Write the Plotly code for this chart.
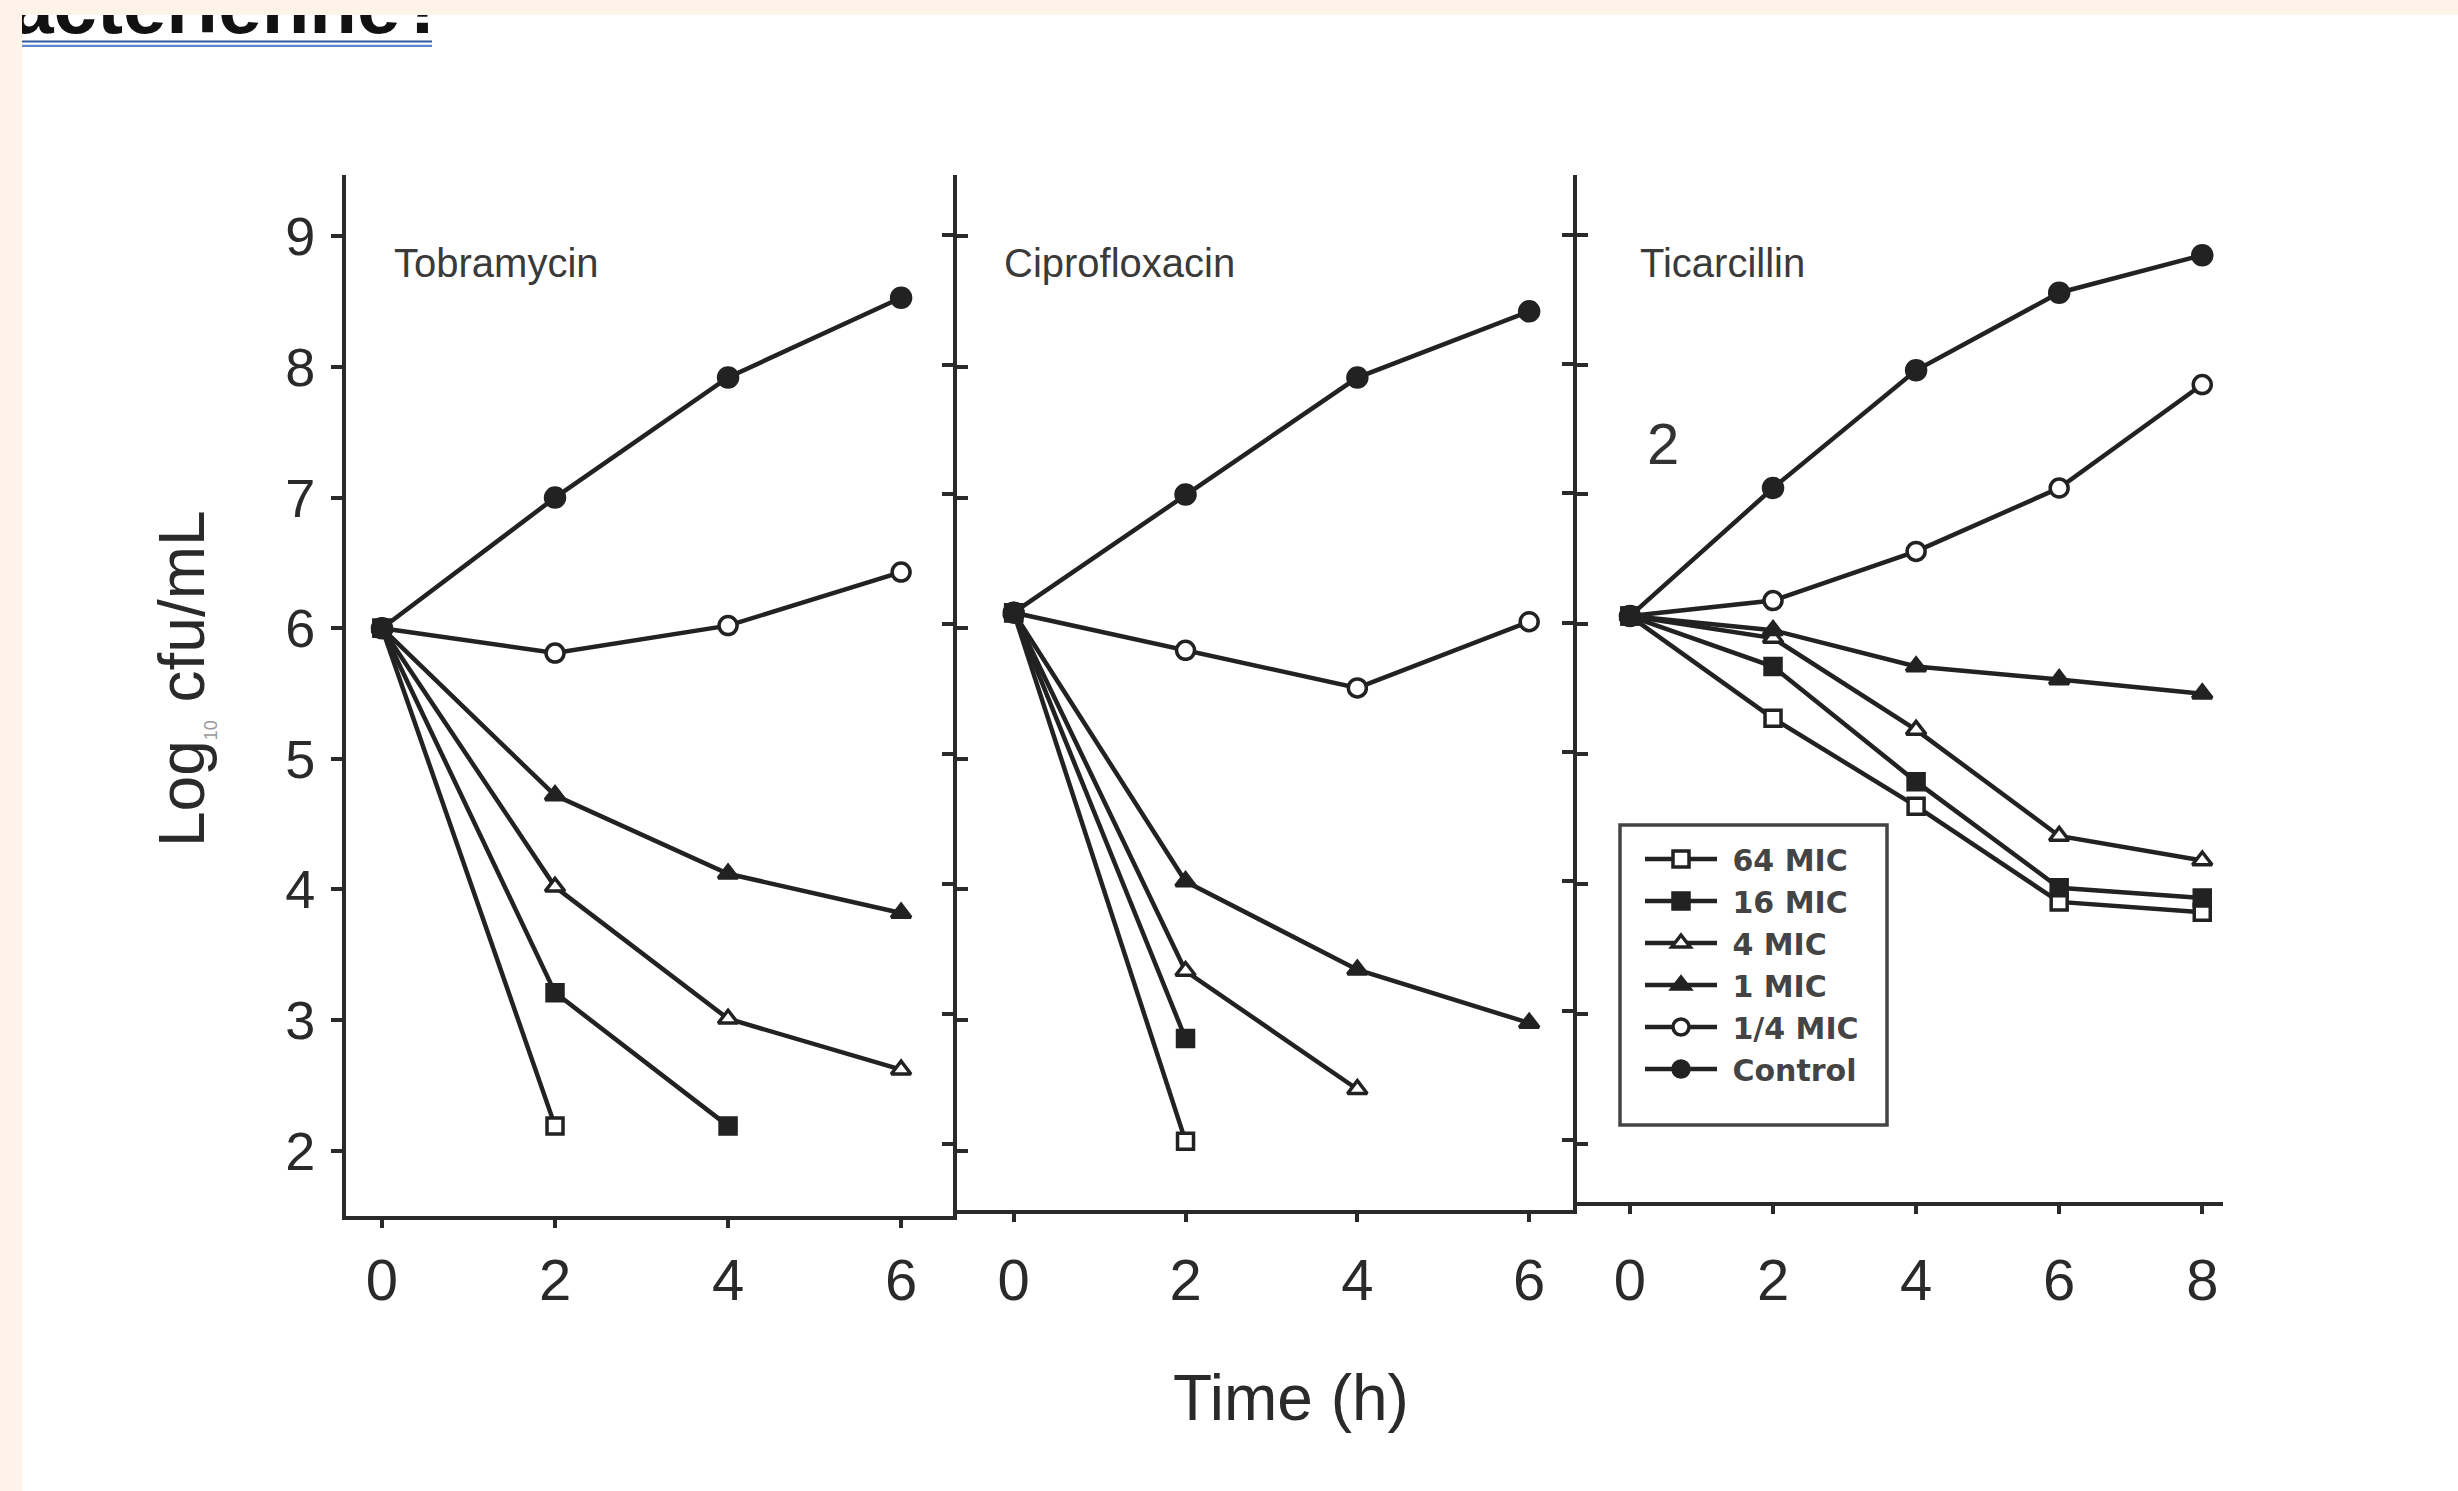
import plotly.graph_objects as go

W, H = 2458, 1491

# ---------------- data ----------------
series_names = ["64 MIC", "16 MIC", "4 MIC", "1 MIC", "1/4 MIC", "Control"]

tob_times = [0, 2, 4, 6]
tob_64mic = [6.0, 2.19]
tob_16mic = [6.0, 3.21, 2.19]
tob_4mic = [6.0, 4.02, 3.01, 2.62]
tob_1mic = [6.0, 4.72, 4.12, 3.82]
tob_quarter = [6.0, 5.81, 6.02, 6.43]
tob_control = [6.0, 7.0, 7.92, 8.53]

cip_times = [0, 2, 4, 6]
cip_64mic = [6.09, 2.02]
cip_16mic = [6.09, 2.81]
cip_4mic = [6.09, 3.33, 2.42]
cip_1mic = [6.09, 4.02, 3.34, 2.93]
cip_quarter = [6.09, 5.80, 5.51, 6.02]
cip_control = [6.09, 7.0, 7.90, 8.41]

tic_times = [0, 2, 4, 6, 8]
tic_64mic = [6.05, 5.26, 4.58, 3.84, 3.76]
tic_16mic = [6.05, 5.66, 4.77, 3.95, 3.87]
tic_4mic = [6.05, 5.88, 5.17, 4.35, 4.16]
tic_1mic = [6.05, 5.94, 5.66, 5.56, 5.45]
tic_quarter = [6.05, 6.17, 6.55, 7.04, 7.84]
tic_control = [6.05, 7.04, 7.95, 8.55, 8.84]

panel_titles = ["Tobramycin", "Ciprofloxacin", "Ticarcillin"]
y_ticks = [2, 3, 4, 5, 6, 7, 8, 9]
x_ticks_6h = [0, 2, 4, 6]
x_ticks_8h = [0, 2, 4, 6, 8]

# ---------------- styles ----------------
FONT = "Liberation Sans, Arial, sans-serif"
INK = "#222222"
marker_styles = {
    "64 MIC": dict(symbol="square", size=16, color="white"),
    "16 MIC": dict(symbol="square", size=16, color=INK),
    "4 MIC": dict(symbol="triangle-up", size=17, color="white"),
    "1 MIC": dict(symbol="triangle-up", size=17, color=INK),
    "1/4 MIC": dict(symbol="circle", size=18, color="white"),
    "Control": dict(symbol="circle", size=19, color=INK),
}

panels = [
    (tob_times, [tob_64mic, tob_16mic, tob_4mic, tob_1mic, tob_quarter, tob_control]),
    (cip_times, [cip_64mic, cip_16mic, cip_4mic, cip_1mic, cip_quarter, cip_control]),
    (tic_times, [tic_64mic, tic_16mic, tic_4mic, tic_1mic, tic_quarter, tic_control]),
]

fig = go.Figure()
for p, (times, ys) in enumerate(panels):
    xa = "x" if p == 0 else f"x{p+1}"
    ya = "y" if p == 0 else f"y{p+1}"
    for name, yv in zip(series_names, ys):
        ms = marker_styles[name]
        fig.add_trace(go.Scatter(
            x=times[:len(yv)], y=yv, mode="lines+markers", name="\u00a0" + name,
            legendgroup=name, showlegend=(p == 2),
            xaxis=xa, yaxis=ya,
            line=dict(color=INK, width=4.5),
            marker=dict(symbol=ms["symbol"], size=ms["size"], color=ms["color"],
                        line=dict(color=INK, width=3.5)),
            hoverinfo="skip",
        ))

# heading fragment (clipped by its own hidden subplot)
fig.add_trace(go.Scatter(
    x=[448], y=[52], mode="text", text=["bactérienne?"], textposition="top left",
    textfont=dict(family=FONT, size=78, color="#111", weight="bold"),
    xaxis="x4", yaxis="y4",
    showlegend=False, hoverinfo="skip", cliponaxis=True,
))

def px_x(v):
    return v / W

def px_y(v):
    return 1 - v / H

axis_common = dict(showline=True, linecolor="#2a2a2a", linewidth=4, showgrid=False,
                   zeroline=False, ticks="outside", tickcolor="#2a2a2a", tickwidth=3.5,
                   fixedrange=True)

layout = dict(
    width=W, height=H, margin=dict(l=0, r=0, t=0, b=0, pad=0),
    paper_bgcolor="#FDF3E8", plot_bgcolor="rgba(0,0,0,0)",
    font=dict(family=FONT, color="#2a2a2a"),
    showlegend=True,
    legend=dict(x=px_x(1628), y=px_y(833), xanchor="left", yanchor="top",
                bgcolor="rgba(0,0,0,0)", borderwidth=0,
                font=dict(family="DejaVu Sans, sans-serif", size=30, color="#444",
                          weight="bold"),
                itemwidth=72, indentation=12, tracegroupgap=0, traceorder="normal"),
)

x_domains = [(346, 953), (957, 1573), (1577, 2223)]
y_bottoms = [1216, 1210, 1202]
x_ranges = [[-0.416, 6.60], [-0.66, 6.51], [-0.74, 8.29]]
y_ranges = [[1.5, 9.47], [1.49, 9.46], [1.52, 9.46]]
x_tickvals = [x_ticks_6h, x_ticks_6h, x_ticks_8h]
x_standoffs = [2, 8, 16]

for p in range(3):
    sx = "xaxis" if p == 0 else f"xaxis{p+1}"
    sy = "yaxis" if p == 0 else f"yaxis{p+1}"
    ax_id = "x" if p == 0 else f"x{p+1}"
    ay_id = "y" if p == 0 else f"y{p+1}"
    layout[sx] = dict(axis_common, domain=[px_x(x_domains[p][0]), px_x(x_domains[p][1])],
                      range=x_ranges[p], anchor=ay_id, tickvals=x_tickvals[p],
                      ticklen=8, tickfont=dict(size=58, color="#2a2a2a"),
                      ticklabelstandoff=x_standoffs[p])
    layout[sy] = dict(axis_common, domain=[px_y(y_bottoms[p]), px_y(175)],
                      range=y_ranges[p], anchor=ax_id, tickvals=y_ticks,
                      ticklen=11, showticklabels=(p == 0),
                      mirror=("ticks" if p < 2 else False),
                      tickfont=dict(size=54, color="#2a2a2a"),
                      ticklabelstandoff=5)

layout["xaxis4"] = dict(domain=[px_x(22), px_x(450)], range=[22, 450], visible=False,
                        anchor="y4", fixedrange=True)
layout["yaxis4"] = dict(domain=[px_y(60), px_y(15)], range=[60, 15], visible=False,
                        anchor="x4", fixedrange=True)

fig.update_layout(**layout)

shapes = [
    dict(type="rect", xref="paper", yref="paper", x0=px_x(22), x1=1, y0=0, y1=px_y(15),
         fillcolor="white", line=dict(width=0), layer="below"),
    dict(type="line", xref="paper", yref="paper", x0=px_x(22), x1=px_x(432),
         y0=px_y(41.5), y1=px_y(41.5), line=dict(color="#2f5a9e", width=2.2)),
    dict(type="line", xref="paper", yref="paper", x0=px_x(22), x1=px_x(432),
         y0=px_y(45.8), y1=px_y(45.8), line=dict(color="#5a88cc", width=2.2)),
    # legend frame
    dict(type="rect", xref="paper", yref="paper", x0=px_x(1620), x1=px_x(1887),
         y0=px_y(1125), y1=px_y(825), fillcolor="white",
         line=dict(color="#444", width=3.5), layer="above"),
]
fig.update_layout(shapes=shapes)

annotations = [
    dict(text=panel_titles[0], x=px_x(392), y=px_y(263)),
    dict(text=panel_titles[1], x=px_x(1002), y=px_y(263)),
    dict(text=panel_titles[2], x=px_x(1638), y=px_y(263)),
]
annotations = [dict(a, xref="paper", yref="paper", xanchor="left", yanchor="middle",
                    showarrow=False, font=dict(family=FONT, size=40, color="#3a3a3a"))
               for a in annotations]
annotations.append(dict(text="2", x=px_x(1663), y=px_y(443), xref="paper", yref="paper",
                        xanchor="center", yanchor="middle", showarrow=False,
                        font=dict(family=FONT, size=58, color="#333")))
annotations.append(dict(text="Time (h)", x=px_x(1291), y=px_y(1398), xref="paper",
                        yref="paper", xanchor="center", yanchor="middle", showarrow=False,
                        font=dict(family=FONT, size=64, color="#2a2a2a")))
annotations.append(dict(text="Log<sub><span style='font-size:18px;color:#999'>10</span></sub> cfu/mL",
                        x=px_x(183), y=px_y(679), xref="paper", yref="paper",
                        xanchor="center", yanchor="middle", textangle=-90, showarrow=False,
                        font=dict(family=FONT, size=64, color="#2a2a2a")))
fig.update_layout(annotations=annotations)

fig.write_html("out.html", config={"displayModeBar": False},
               post_script="document.body.style.margin='0px';")
